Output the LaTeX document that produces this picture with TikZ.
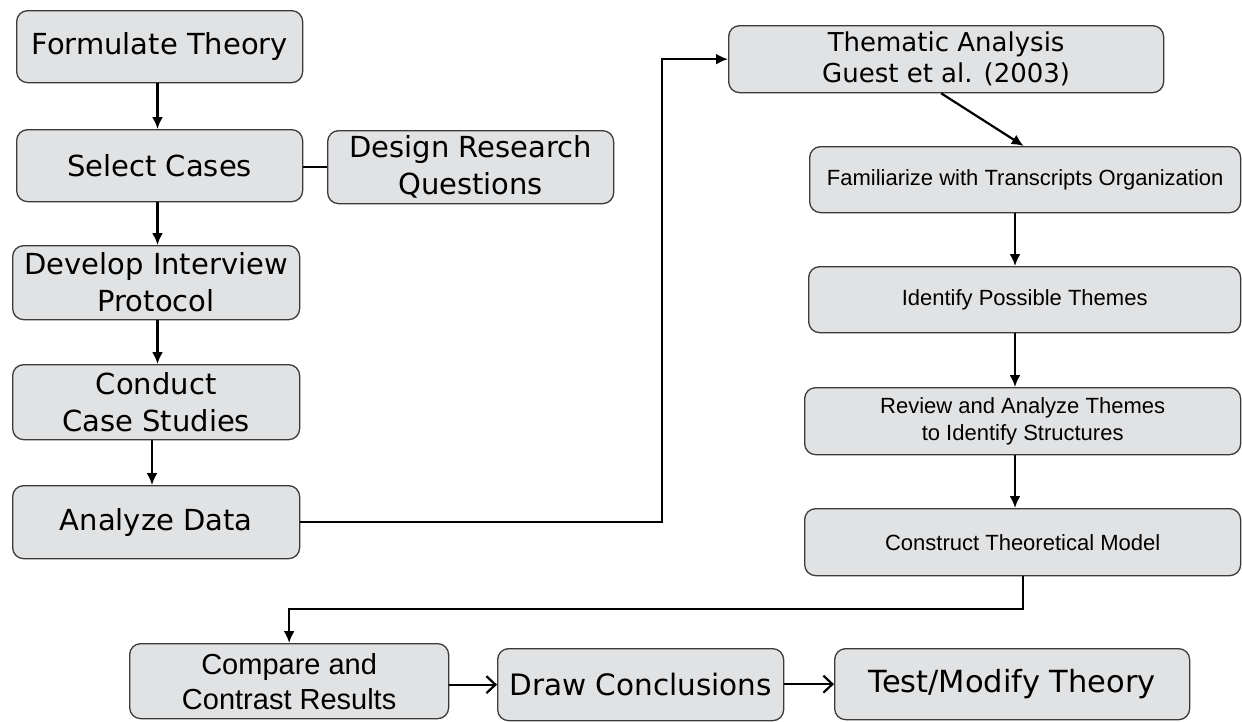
\documentclass[tikz,border=0pt]{standalone}
\usepackage{fontspec}
\setmainfont{DejaVu Sans}
\newfontfamily\arialfont{Liberation Sans}
\usetikzlibrary{arrows.meta}
\definecolor{boxfill}{HTML}{E1E2E4}
\definecolor{boxline}{HTML}{3A3A3A}
\tikzset{
  box/.style={draw=boxline, fill=boxfill, line width=1.3pt, rounded corners=11pt,
    inner sep=2pt, align=center, anchor=north west, text=black},
  bigtext/.style={font=\fontsize{29}{37}\selectfont},
  midtext/.style={font=\fontsize{26}{31}\selectfont},
  smalltext/.style={font=\arialfont\fontsize{22}{27}\selectfont},
  cmptext/.style={font=\arialfont\fontsize{29}{35}\selectfont},
  conn/.style={draw=black, line width=2.2pt},
  arr/.style={conn, -{Latex[length=12pt,width=11pt]}},
  oarr/.style={conn, -{Straight Barb[length=9pt,width=17pt,line width=2.2pt]}},
}
\begin{document}
\begin{tikzpicture}[x=1pt, y=-1pt]
\useasboundingbox (0,0) rectangle (1242,721);

% left column
\node[box, bigtext, minimum width=286pt, minimum height=72pt] (ft)  at (16,10)  {Formulate Theory};
\node[box, bigtext, minimum width=286pt, minimum height=72pt] (sc)  at (16,129) {Select Cases};
\node[box, bigtext, minimum width=286pt, minimum height=73pt] (drq) at (327,130) {Design Research\\Questions};
\node[box, bigtext, minimum width=287pt, minimum height=74pt] (dip) at (12,245) {Develop Interview\\Protocol};
\node[box, bigtext, minimum width=287pt, minimum height=75pt] (ccs) at (12,364) {Conduct\\Case Studies};
\node[box, bigtext, minimum width=287pt, minimum height=73pt] (ad)  at (12,485) {Analyze Data};

% thematic analysis column
\node[box, midtext, minimum width=435pt, minimum height=67pt] (ta)  at (728,25) {Thematic Analysis\\Guest et al. (2003)};
\node[box, smalltext, minimum width=431pt, minimum height=66pt] (fam) at (809,146) {Familiarize with Transcripts Organization};
\node[box, smalltext, minimum width=432pt, minimum height=66pt] (ipt) at (808,266) {Identify Possible Themes};
\node[box, smalltext, minimum width=436pt, minimum height=67pt] (rat) at (804,387) {Review and Analyze Themes\\to Identify Structures};
\node[box, smalltext, minimum width=436pt, minimum height=67pt] (ctm) at (804,508) {Construct Theoretical Model};

% bottom row
\node[box, cmptext, minimum width=319pt, minimum height=75pt] (ccr) at (129,643) {Compare and\\Contrast Results};
\node[box, font=\fontsize{29.5}{37}\selectfont, minimum width=286pt, minimum height=72pt] (dc)  at (497,648) {Draw Conclusions};
\node[box, font=\fontsize{30.5}{37}\selectfont, minimum width=355pt, minimum height=71pt] (tmt) at (834,648) {Test/Modify Theory};

% guide columns for the vertical connectors
\coordinate (lcol) at (157.5,0);
\coordinate (lcolb) at (152,0);
\coordinate (rcol) at (1015,0);
\coordinate (knee) at (662,0);

% connectors
\draw[arr] (ft.south -| lcol) -- (sc.north -| lcol);
\draw[conn] (drq.west -| sc.east) -- (drq.west);
\draw[arr] (sc.south -| lcol) -- (dip.north -| lcol);
\draw[arr] (dip.south -| lcol) -- (ccs.north -| lcol);
\draw[arr] (ccs.south -| lcolb) -- (ad.north -| lcolb);
\draw[arr] (ad.east) -- (ad.east -| knee) |- (ta.west);
\draw[arr] ([xshift=-5pt]ta.south) -- ([xshift=-1.5pt]fam.north);
\draw[arr] (fam.south -| rcol) -- (ipt.north -| rcol);
\draw[arr] (ipt.south -| rcol) -- (rat.north -| rcol);
\draw[arr] (rat.south -| rcol) -- (ctm.north -| rcol);
\draw[arr] (ctm.south) -- ++(0,33) -| (ccr.north);
\draw[oarr] (dc.west -| ccr.east) -- (dc.west);
\draw[oarr] (dc.east |- tmt.west) -- (tmt.west);
\end{tikzpicture}
\end{document}
